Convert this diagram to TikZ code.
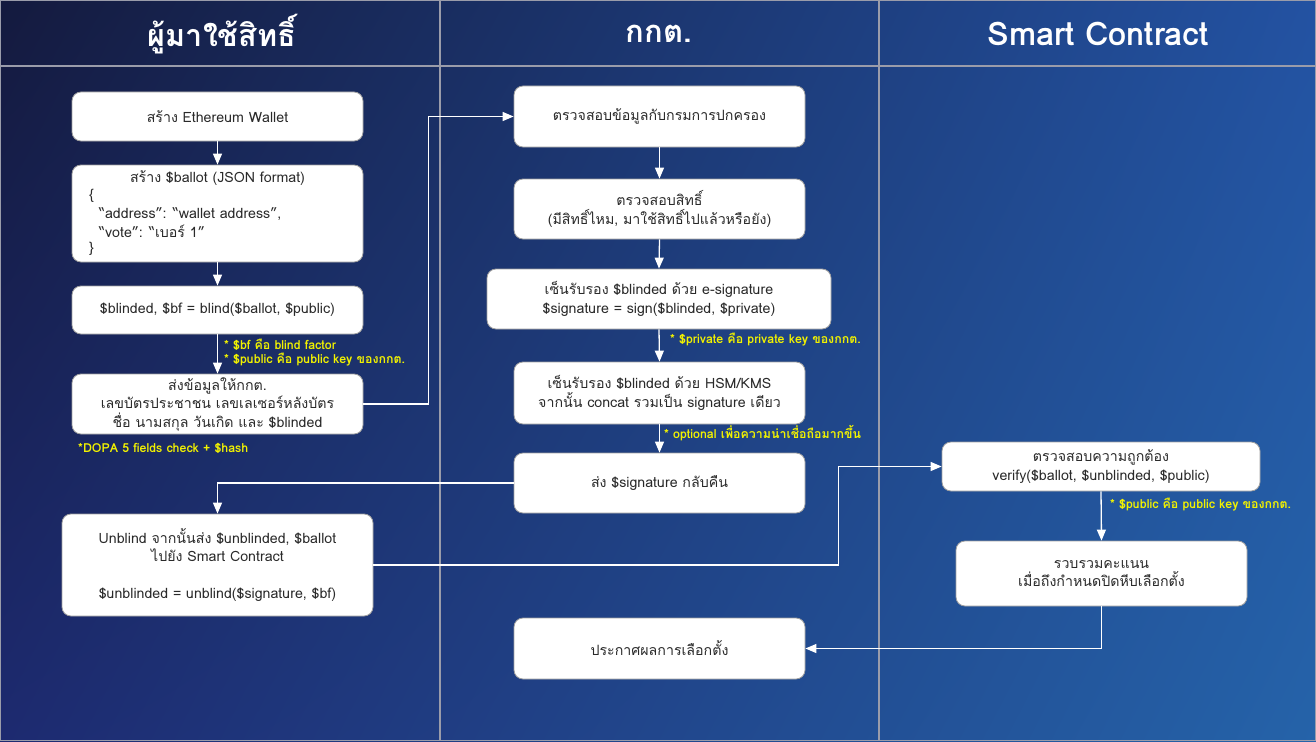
\documentclass[tikz,border=0pt]{standalone}
\usepackage{fontspec}
\setmainfont[Script=Thai]{Loma}
\usetikzlibrary{arrows.meta,shadings}
\definecolor{bgA}{HTML}{141A3E}
\definecolor{bgB}{HTML}{2352A2}
\definecolor{bgC}{HTML}{1D2A70}
\definecolor{bgD}{HTML}{2563A9}
\definecolor{gridc}{HTML}{9A9CAA}
\definecolor{notec}{HTML}{F2F200}
\definecolor{boxtext}{HTML}{2A2A2A}
\newcommand{\boxfont}{\fontsize{14.2}{18.5}\selectfont}
\newcommand{\notefont}{\fontsize{12.4}{15}\selectfont\bfseries}
\tikzset{
  box/.style={draw=gray!75, fill=white, rounded corners=9pt, line width=0.8pt,
    text=boxtext, font=\boxfont, align=center, inner sep=0pt},
  plain/.style={text=boxtext, font=\boxfont, inner sep=0pt, anchor=west},
  arr/.style={draw=white, line width=1.3pt, -{Triangle[length=11pt,width=9pt]}},
  note/.style={text=notec, font=\notefont, anchor=west, inner sep=0pt, align=left},
  gridline/.style={draw=gridc, line width=1.2pt},
  head/.style={text=white, inner sep=0pt}
}
\begin{document}
\begin{tikzpicture}[x=1pt,y=-1pt]
\useasboundingbox (0,0) rectangle (1316,741);
\shade[upper left=bgA, upper right=bgB, lower left=bgC, lower right=bgD] (0,0) rectangle (1316,741);
% grid
\draw[gridline] (0.6,0.6) rectangle (1315.4,740.4);
\draw[gridline] (0,66) -- (1316,66);
\draw[gridline] (440,0) -- (440,741);
\draw[gridline] (879,0) -- (879,741);
% headers
\node[head, font=\fontsize{30.5}{34}\selectfont\bfseries] (h1) at (222,34) {ผู้มาใช้สิทธิ์};
\node[head, font=\fontsize{31}{34}\selectfont\bfseries] (h2) at (659,34) {กกต.};
\node[head, font=\fontsize{32.5}{36}\selectfont\bfseries] (h3) at (1098,34) {Smart Contract};
% column 1
\node[box, minimum width=291pt, minimum height=49pt] (A1) at (217.5,116.5) {สร้าง Ethereum Wallet};
\node[box, minimum width=291pt, minimum height=97pt] (A2) at (217.5,213.5) {};
\node[text=boxtext, font=\boxfont, inner sep=0pt] (A2t) at (217.5,178) {สร้าง \$ballot (JSON format)};
\node[plain] (A2a) at (89,196) {\{};
\node[plain] (A2b) at (99,214) {“address”: “wallet address”,};
\node[plain] (A2c) at (99,231) {“vote”: “เบอร์ 1”};
\node[plain] (A2d) at (89,249) {\}};
\node[box, minimum width=291pt, minimum height=48pt] (A3) at (217.5,310) {\$blinded, \$bf = blind(\$ballot, \$public)};
\node[box, minimum width=291pt, minimum height=60pt] (A4) at (217.5,404) {ส่งข้อมูลให้กกต.\\เลขบัตรประชาชน เลขเลเซอร์หลังบัตร\\ชื่อ นามสกุล วันเกิด และ \$blinded};
\node[box, minimum width=311pt, minimum height=102pt] (A5) at (217.5,565) {Unblind จากนั้นส่ง \$unblinded, \$ballot\\ไปยัง Smart Contract\\[18.5pt]\$unblinded = unblind(\$signature, \$bf)};
% column 2
\node[box, minimum width=291pt, minimum height=61pt] (B1) at (659.5,116.5) {ตรวจสอบข้อมูลกับกรมการปกครอง};
\node[box, minimum width=291pt, minimum height=60pt] (B2) at (659.5,209) {ตรวจสอบสิทธิ์\\(มีสิทธิ์ไหม, มาใช้สิทธิ์ไปแล้วหรือยัง)};
\node[box, minimum width=344pt, minimum height=60pt] (B3) at (659,299) {เซ็นรับรอง \$blinded ด้วย e-signature\\\$signature = sign(\$blinded, \$private)};
\node[box, minimum width=291pt, minimum height=62pt] (B4) at (659.5,393) {เซ็นรับรอง \$blinded ด้วย HSM/KMS\\จากนั้น concat รวมเป็น signature เดียว};
\node[box, minimum width=291pt, minimum height=60pt] (B5) at (659.5,483) {ส่ง \$signature กลับคืน};
\node[box, minimum width=291pt, minimum height=61pt] (B6) at (659.5,648.5) {ประกาศผลการเลือกตั้ง};
% column 3
\node[box, minimum width=318pt, minimum height=49pt] (C1) at (1101,466.5) {ตรวจสอบความถูกต้อง\\verify(\$ballot, \$unblinded, \$public)};
\node[box, minimum width=291pt, minimum height=65pt] (C2) at (1101.5,573.5) {รวบรวมคะแนน\\เมื่อถึงกำหนดปิดหีบเลือกตั้ง};
% notes
\node[note] (n1) at (224,345) {* \$bf คือ blind factor};
\node[note] (n2) at (224,360) {* \$public คือ public key ของกกต.};
\node[note] (n3) at (78,448) {*DOPA 5 fields check + \$hash};
\node[note] (n4) at (670,340) {* \$private คือ private key ของกกต.};
\node[note] (n5) at (664,433) {* optional เพื่อความน่าเชื่อถือมากขึ้น};
\node[note] (n6) at (1110,505) {* \$public คือ public key ของกกต.};
% connectors
\draw[arr] (A1.south) -- (A2.north);
\draw[arr] (A2.south) -- (A3.north);
\draw[arr] (A3.south) -- (A4.north);
\draw[arr] (A4.east) -- ++(65,0) |- (B1.west);
\draw[arr] (B1.south) -- (B2.north);
\draw[arr] (B2.south) -- (B3.north);
\draw[arr] (B3.south) -- (B4.north);
\draw[arr] (B4.south) -- (B5.north);
\draw[arr] (B5.west) -| (A5.north);
\draw[arr] (A5.east) -- ++(465,0) |- (C1.west);
\draw[arr] (C1.south) -- (C2.north);
\draw[arr] (C2.south) |- (B6.east);
\end{tikzpicture}
\end{document}
